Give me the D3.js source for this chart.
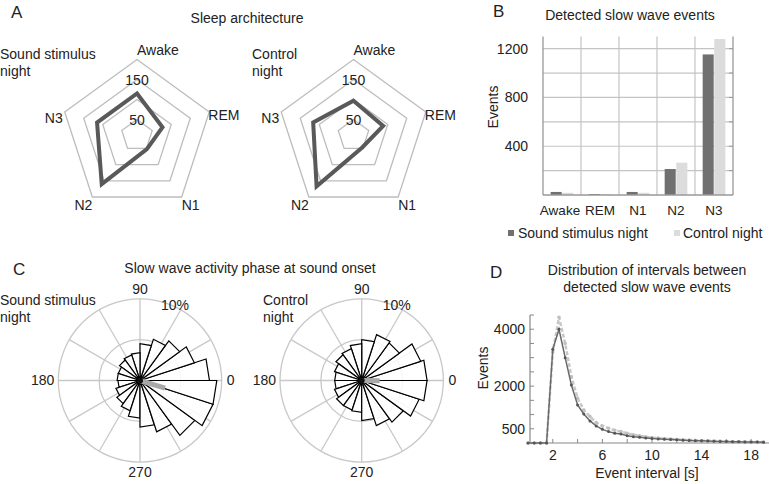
<!DOCTYPE html>
<html><head><meta charset="utf-8">
<script src="https://cdn.jsdelivr.net/npm/d3@7"></script>
<style>
body{margin:0;background:#fff;}
text{font-family:"Liberation Sans",Arial,sans-serif;fill:#222;}
</style></head>
<body>
<script>
// ---------- DATA ----------
const stages = ["Awake","REM","N1","N2","N3"];
const sleepSound = [115, 77, 52, 160, 115];
const sleepControl = [97, 88, 47, 167, 116];
const radarRings = [50, 100, 150, 200];
const radarRingLabels = [50, 150];

const eventsSound = [25, 8, 25, 213, 1153];
const eventsControl = [18, 6, 18, 265, 1279];
const eventTicks = [400, 800, 1200];
const eventGrid = [200, 400, 600, 800, 1000, 1200];

const phaseBinWidth = 18;
const phaseSound = [8.5, 7.0, 6.0, 5.3, 4.5, 3.4, 3.3, 3.1, 2.8, 2.8, 2.7, 3.1, 3.5, 3.9, 4.6, 5.7, 6.6, 8.3, 9.4, 9.4];
const phaseControl = [8.0, 7.6, 5.7, 5.9, 5.0, 4.5, 4.1, 3.9, 3.5, 3.3, 3.3, 3.5, 3.8, 3.8, 3.9, 4.9, 5.8, 6.3, 7.4, 8.0];
const meanAngle = [-17, -1];
const meanLength = [3.2, 2.2];
const phaseRings = [5, 10];
const phaseSpokes = [0, 30, 60, 90, 120, 150, 180, 210, 240, 270, 300, 330];

const intervals = [0,0.5,1,1.5,2,2.5,3,3.5,4,4.5,5,5.5,6,6.5,7,7.5,8,8.5,9,9.5,10,10.5,11,11.5,12,12.5,13,13.5,14,14.5,15,15.5,16,16.5,17,17.5,18,18.5,19];
const intervalSound = [0,0,0,0,3300,4000,3000,2040,1340,1020,775,600,480,400,340,317,257,222,200,180,160,145,130,120,110,100,90,82,75,68,62,56,50,46,42,38,35,32,30];
const intervalControl = [0,0,0,0,3200,4420,3500,2330,1580,1160,930,720,600,520,450,400,340,290,250,215,190,170,155,140,125,115,105,95,85,80,70,65,58,52,48,44,40,36,33];
const dYTicks = [500,1000,1500,2000,2500,3000,3500,4000,4500];
const dYLabels = [500, 2000, 4000];
const dXTicks = [2,4,6,8,10,12,14,16,18];
const dXLabels = [2, 6, 10, 14, 18];

// ---------- SVG ----------
const svg = d3.select("body").append("svg").attr("width", 769).attr("height", 484);
const FS = 14;
function txt(x, y, s, anchor, size) {
  return svg.append("text").attr("x", x).attr("y", y).attr("dy", "0.35em")
    .attr("text-anchor", anchor || "start").attr("font-size", size || FS).text(s);
}

// ---------- PANEL A ----------
txt(11, 12, "A", "start", 17);
txt(247, 18, "Sleep architecture", "middle");
const rA = d3.scaleLinear().domain([10, 200]).range([0, 76]);
const ang = i => -Math.PI / 2 + i * 2 * Math.PI / 5;
function radar(cx, cy, values) {
  const g = svg.append("g");
  const pt = (i, v) => [cx + rA(v) * Math.cos(ang(i)), cy + rA(v) * Math.sin(ang(i))];
  radarRings.forEach(rv => {
    g.append("path").attr("d", d3.line()(stages.map((s, i) => pt(i, rv))) + "Z")
      .attr("fill", "none").attr("stroke", "#bdbdbd").attr("stroke-width", 1.3);
  });
  g.append("path").attr("d", d3.line()(values.map((v, i) => pt(i, v))) + "Z")
    .attr("fill", "none").attr("stroke", "#595959").attr("stroke-width", 4).attr("stroke-linejoin", "miter");
  radarRingLabels.forEach(rv => {
    const p = pt(0, rv);
    g.append("text").attr("x", p[0]).attr("y", p[1] + 1).attr("dy", "0.35em")
      .attr("text-anchor", "middle").attr("font-size", FS).text(rv);
  });
  const o = stages.map((s, i) => pt(i, 200));
  txt(o[0][0], o[0][1] - 9, "Awake", "start");
  txt(o[1][0] - 1, o[1][1] + 3, "REM", "start");
  txt(o[2][0], o[2][1] + 8, "N1", "start");
  txt(o[3][0], o[3][1] + 8, "N2", "end");
  txt(o[4][0] - 2, o[4][1] + 6, "N3", "end");
}
radar(137, 135.5, sleepSound);
radar(353.5, 135.5, sleepControl);
txt(0, 54, "Sound stimulus"); txt(0, 71.5, "night");
txt(252, 54, "Control"); txt(252, 71.5, "night");

// ---------- PANEL B ----------
txt(493, 11, "B", "start", 17);
txt(630, 15, "Detected slow wave events", "middle");
const xB = d3.scaleBand().domain(stages).range([543, 733]);
const xS = d3.scaleBand().domain(["s", "c"]).range([0, xB.bandwidth()]).paddingInner(0.05).paddingOuter(0.66);
const yB = d3.scaleLinear().domain([0, 1300]).range([195, 36.5]);
const gB = svg.append("g");
eventGrid.forEach(v => gB.append("line").attr("x1", 543).attr("x2", 733).attr("y1", yB(v)).attr("y2", yB(v)).attr("stroke", "#c4c4c4").attr("stroke-width", 1.2));
stages.slice(1).forEach(s => gB.append("line").attr("x1", xB(s)).attr("x2", xB(s)).attr("y1", yB(1300)).attr("y2", yB(0)).attr("stroke", "#c4c4c4").attr("stroke-width", 1.2));
stages.forEach((s, i) => {
  gB.append("rect").attr("x", xB(s) + xS("s")).attr("width", xS.bandwidth()).attr("y", yB(eventsSound[i])).attr("height", yB(0) - yB(eventsSound[i])).attr("fill", "#707070");
  gB.append("rect").attr("x", xB(s) + xS("c")).attr("width", xS.bandwidth()).attr("y", yB(eventsControl[i])).attr("height", yB(0) - yB(eventsControl[i])).attr("fill", "#dcdcdc");
  txt(xB(s) + xB.bandwidth() / 2 - (i === 0 ? 2 : 0), 210, s, "middle", 13.5);
});
gB.append("line").attr("x1", 543).attr("x2", 543).attr("y1", yB(1300)).attr("y2", yB(0)).attr("stroke", "#999").attr("stroke-width", 1.3);
gB.append("line").attr("x1", 733).attr("x2", 733).attr("y1", yB(1300)).attr("y2", yB(0)).attr("stroke", "#999").attr("stroke-width", 1.3);
gB.append("line").attr("x1", 543).attr("x2", 733).attr("y1", yB(0)).attr("y2", yB(0)).attr("stroke", "#999").attr("stroke-width", 1.3);
eventGrid.forEach(v => {
  gB.append("line").attr("x1", 729).attr("x2", 733).attr("y1", yB(v)).attr("y2", yB(v)).attr("stroke", "#999");
});
eventTicks.forEach(v => txt(528, yB(v), v, "end"));
svg.append("text").attr("transform", "translate(493,107) rotate(-90)").attr("dy", "0.35em").attr("text-anchor", "middle").attr("font-size", FS).text("Events");
gB.append("rect").attr("x", 508).attr("y", 230).attr("width", 6).attr("height", 6).attr("fill", "#707070");
txt(518, 233, "Sound stimulus night");
gB.append("rect").attr("x", 674).attr("y", 230).attr("width", 6).attr("height", 6).attr("fill", "#dcdcdc");
txt(683, 233, "Control night");

// ---------- PANEL C ----------
txt(13, 269, "C", "start", 17);
txt(250, 268, "Slow wave activity phase at sound onset", "middle");
const rC = d3.scaleLinear().domain([0, 10]).range([0, 81.7]);
function rose(cx, cy, vals, mAng, mLen, lines, lx) {
  const g = svg.append("g");
  const P = (deg, r) => [cx + r * Math.cos(deg * Math.PI / 180), cy - r * Math.sin(deg * Math.PI / 180)];
  phaseRings.forEach(v => g.append("circle").attr("cx", cx).attr("cy", cy).attr("r", rC(v)).attr("fill", "none").attr("stroke", "#c8c8c8").attr("stroke-width", 1.3));
  phaseSpokes.forEach(a => { const p = P(a, rC(10)); g.append("line").attr("x1", cx).attr("y1", cy).attr("x2", p[0]).attr("y2", p[1]).attr("stroke", "#c8c8c8").attr("stroke-width", 1.3); });
  vals.forEach((v, i) => {
    const a0 = i * phaseBinWidth, a1 = (i + 1) * phaseBinWidth;
    g.append("path").attr("d", d3.line()([[cx, cy], P(a0, rC(v)), P(a1, rC(v))]) + "Z")
      .attr("fill", "#fff").attr("fill-opacity", 0.85).attr("stroke", "#000").attr("stroke-width", 1.2).attr("stroke-linejoin", "miter");
  });
  const m = P(mAng, rC(mLen));
  g.append("line").attr("x1", cx).attr("y1", cy).attr("x2", m[0]).attr("y2", m[1]).attr("stroke", "#a8a8a8").attr("stroke-width", 5);
  g.append("circle").attr("cx", cx).attr("cy", cy).attr("r", 3).attr("fill", "#111");
  txt(cx, cy - rC(10) - 10, "90", "middle");
  txt(cx, cy + rC(10) + 10, "270", "middle");
  txt(cx + rC(10) + 5, cy, "0", "start");
  txt(cx - rC(10) - 4, cy, "180", "end");
  txt(cx + 35, cy - 75.5, "10%", "middle");
  txt(lx, 300, lines[0]); if (lines[1]) txt(lx, 317, lines[1]);
}
rose(140, 380.5, phaseSound, meanAngle[0], meanLength[0], ["Sound stimulus", "night"], 0);
rose(361.7, 380.5, phaseControl, meanAngle[1], meanLength[1], ["Control", "night"], 263);

// ---------- PANEL D ----------
txt(490, 272, "D", "start", 17);
txt(647, 270, "Distribution of intervals between", "middle");
txt(647, 287, "detected slow wave events", "middle");
const xD = d3.scaleLinear().domain([0, 19.4]).range([528, 768.5]);
const yD = d3.scaleLinear().domain([0, 4500]).range([443, 315]);
const gD = svg.append("g");
const ax0 = 530;
gD.append("line").attr("x1", ax0).attr("x2", ax0).attr("y1", yD(4500)).attr("y2", yD(0)).attr("stroke", "#888").attr("stroke-width", 1.2);
gD.append("line").attr("x1", ax0).attr("x2", 769).attr("y1", yD(0)).attr("y2", yD(0)).attr("stroke", "#888").attr("stroke-width", 1.2);
dYTicks.forEach(v => gD.append("line").attr("x1", ax0).attr("x2", ax0 + 4).attr("y1", yD(v)).attr("y2", yD(v)).attr("stroke", "#888"));
dXTicks.forEach(v => gD.append("line").attr("x1", xD(v)).attr("x2", xD(v)).attr("y1", yD(0)).attr("y2", yD(0) - 4).attr("stroke", "#888"));
dYLabels.forEach(v => txt(525, yD(v), v, "end"));
dXLabels.forEach(v => txt(xD(v), 455, v, "middle"));
txt(647, 473, "Event interval [s]", "middle");
svg.append("text").attr("transform", "translate(483,368) rotate(-90)").attr("dy", "0.35em").attr("text-anchor", "middle").attr("font-size", FS).text("Events");
const lineD = d3.line().x((d, i) => xD(intervals[i])).y(d => yD(d));
gD.append("path").attr("d", lineD(intervalControl)).attr("fill", "none").attr("stroke", "#c8c8c8").attr("stroke-width", 2.5).attr("stroke-dasharray", "4,2");
intervalControl.forEach((v, i) => gD.append("circle").attr("cx", xD(intervals[i])).attr("cy", yD(v)).attr("r", 1.8).attr("fill", "#c0c0c0"));
gD.append("path").attr("d", lineD(intervalSound)).attr("fill", "none").attr("stroke", "#6a6a6a").attr("stroke-width", 1.5);
intervalSound.forEach((v, i) => gD.append("circle").attr("cx", xD(intervals[i])).attr("cy", yD(v)).attr("r", 1.5).attr("fill", "#555"));
</script>
</body></html>
